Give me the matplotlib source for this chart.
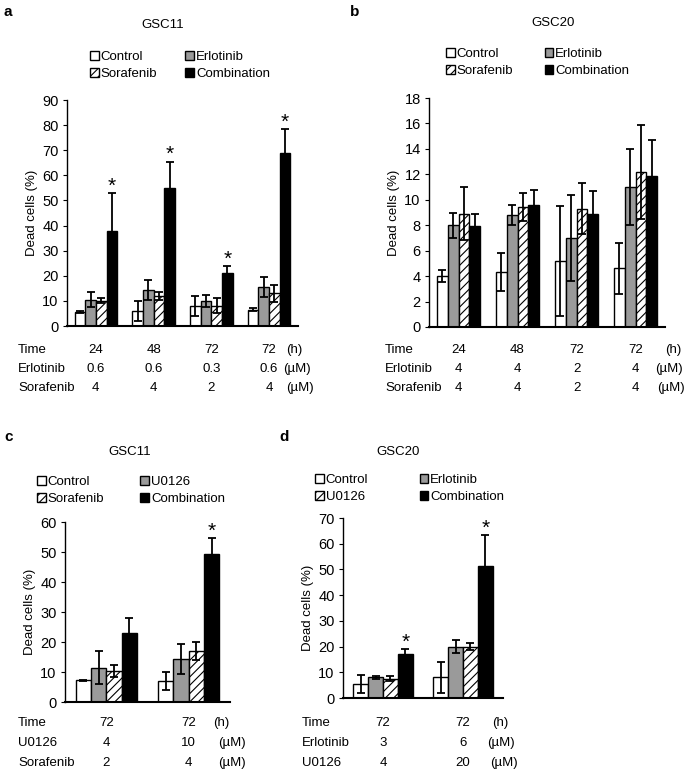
import matplotlib
matplotlib.use("Agg")
import matplotlib.pyplot as plt
import matplotlib.transforms as mtransforms
from matplotlib.patches import Patch
import numpy as np

plt.rcParams["font.family"] = ["Liberation Sans", "DejaVu Sans"]
plt.rcParams["hatch.linewidth"] = 0.8

# ---- data ----
# bar order in every panel: control, drug 1 (gray), drug 2 (hatched), combination
a_legend = ["Control", "Erlotinib", "Sorafenib", "Combination"]
a_means = [[5.5, 6.0, 8.0, 6.5],
           [10.5, 14.5, 10.0, 15.5],
           [10.0, 12.0, 8.0, 13.0],
           [38.0, 55.0, 21.0, 69.0]]
a_errs = [[0.4, 4.0, 4.0, 0.5],
          [3.0, 4.0, 2.5, 4.0],
          [1.0, 1.5, 3.0, 3.5],
          [15.0, 10.5, 3.0, 9.5]]
a_stars = [True, True, True, True]
a_rows = ["Time", "Erlotinib", "Sorafenib"]
a_table = [["24", "48", "72", "72"],
           ["0.6", "0.6", "0.3", "0.6"],
           ["4", "4", "2", "4"]]

b_legend = ["Control", "Erlotinib", "Sorafenib", "Combination"]
b_means = [[4.0, 4.3, 5.2, 4.6],
           [8.0, 8.8, 7.0, 11.0],
           [8.9, 9.4, 9.3, 12.2],
           [7.9, 9.6, 8.9, 11.9]]
b_errs = [[0.5, 1.5, 4.3, 2.0],
          [1.0, 0.8, 3.4, 3.0],
          [2.1, 1.1, 2.0, 3.7],
          [1.0, 1.2, 1.8, 2.8]]
b_stars = [False, False, False, False]
b_rows = ["Time", "Erlotinib", "Sorafenib"]
b_table = [["24", "48", "72", "72"],
           ["4", "4", "2", "4"],
           ["4", "4", "2", "4"]]

c_legend = ["Control", "U0126", "Sorafenib", "Combination"]
c_means = [[7.2, 7.0],
           [11.5, 14.5],
           [10.5, 17.0],
           [23.0, 49.5]]
c_errs = [[0.3, 3.0],
          [5.5, 5.0],
          [2.0, 3.0],
          [5.0, 5.2]]
c_stars = [False, True]
c_rows = ["Time", "U0126", "Sorafenib"]
c_table = [["72", "72"],
           ["4", "10"],
           ["2", "4"]]

d_legend = ["Control", "Erlotinib", "U0126", "Combination"]
d_means = [[5.5, 8.0],
           [8.0, 20.0],
           [7.5, 20.0],
           [17.0, 51.5]]
d_errs = [[3.5, 6.0],
          [0.5, 2.5],
          [1.0, 1.5],
          [2.0, 12.0]]
d_stars = [True, True]
d_rows = ["Time", "Erlotinib", "U0126"]
d_table = [["72", "72"],
           ["3", "6"],
           ["4", "20"]]

units = ["(h)", "(\u00b5M)", "(\u00b5M)"]

W, H = 685, 770
fig = plt.figure(figsize=(W / 100, H / 100), dpi=100)

FS = 9.5
faces = ["white", "#9a9a9a", "white", "black"]
hatches = [None, None, "////", None]


def fx(px):
    return px / W


def fy(py):
    return 1 - py / H


def panel(rect, means, errs, stars, legend, rows, table, ymax, ystep,
          title, letter, title_xy, letter_xy, leg_xy, colsp,
          row_x, row_y, unit_x, width=0.185):
    l, t, r, b = rect
    ax = fig.add_axes([fx(l), fy(b), fx(r - l), (b - t) / H])
    n = len(means[0])
    x = np.arange(n)
    for i in range(4):
        pos = x + (i - 1.5) * width
        ax.bar(pos, means[i], width, color=faces[i], edgecolor="black",
               linewidth=1.0, hatch=hatches[i], label=legend[i], zorder=2)
        ax.errorbar(pos, means[i], yerr=errs[i], fmt="none", ecolor="black",
                    elinewidth=1.3, capsize=2.6, capthick=1.3, zorder=3)
    for j in range(n):
        if stars[j]:
            top = means[3][j] + errs[3][j]
            ax.annotate("*", xy=(x[j] + 1.5 * width, top),
                        xytext=(0, -2), textcoords="offset points",
                        ha="center", va="bottom", fontsize=15)
    ax.set_xlim(-0.5, n - 0.5)
    ax.set_ylim(0, ymax)
    ax.set_yticks(np.arange(0, ymax + 0.1, ystep))
    ax.set_xticks([])
    for s in ["top", "right"]:
        ax.spines[s].set_visible(False)
    ax.spines["left"].set_linewidth(1.0)
    ax.spines["bottom"].set_linewidth(1.5)
    ax.tick_params(axis="y", labelsize=10.5, length=3, width=0.8, pad=3)
    ax.set_ylabel("Dead cells (%)", fontsize=FS, labelpad=3)

    # legend: row 1 = control, gray; row 2 = hatched, combination
    order = [0, 2, 1, 3]
    proxies = [Patch(facecolor=faces[i], edgecolor="black", hatch=hatches[i],
                     linewidth=1.0) for i in range(4)]
    fig.legend([proxies[i] for i in order], [legend[i] for i in order],
               ncol=2, loc="upper left",
               bbox_to_anchor=(fx(leg_xy[0]), fy(leg_xy[1])),
               frameon=False, fontsize=FS, handlelength=0.65,
               handleheight=0.65, handletextpad=0.15, columnspacing=colsp,
               labelspacing=0.4, borderpad=0, borderaxespad=0)

    fig.text(fx(title_xy[0]), fy(title_xy[1]), title, fontsize=FS,
             ha="center", va="center")
    fig.text(fx(letter_xy[0]), fy(letter_xy[1]), letter, fontsize=11,
             fontweight="bold", ha="left", va="center")

    trans = mtransforms.blended_transform_factory(ax.transData, fig.transFigure)
    for k, name in enumerate(rows):
        yy = fy(row_y[k])
        fig.text(fx(row_x), yy, name, fontsize=FS, ha="left", va="center")
        for j in range(n):
            ax.text(x[j], yy, table[k][j], transform=trans, fontsize=FS,
                    ha="center", va="center")
        fig.text(fx(unit_x[k]), yy, units[k], fontsize=FS, ha="left",
                 va="center")
    return ax


panel((67, 100, 298, 326), a_means, a_errs, a_stars, a_legend, a_rows,
      a_table, 90, 10, "GSC11", "a", (163, 25), (4, 12), (90, 51), 2.15,
      18, (350, 369, 388), (286, 283, 286))

panel((429, 98, 665, 327), b_means, b_errs, b_stars, b_legend, b_rows,
      b_table, 18, 2, "GSC20", "b", (553, 23), (350, 12), (446, 48), 2.4,
      385, (350, 369, 388), (665, 655, 657))

panel((65, 522, 230, 702), c_means, c_errs, c_stars, c_legend, c_rows,
      c_table, 60, 10, "GSC11", "c", (130, 452), (4, 437), (37, 476), 2.75,
      18, (723, 743, 763), (213, 218, 218))

panel((343, 518, 503, 698), d_means, d_errs, d_stars, d_legend, d_rows,
      d_table, 70, 10, "GSC20", "d", (398, 452), (279, 437), (315, 474), 3.9,
      302, (723, 743, 763), (492, 487, 490))

fig.savefig("out.png", dpi=100)
